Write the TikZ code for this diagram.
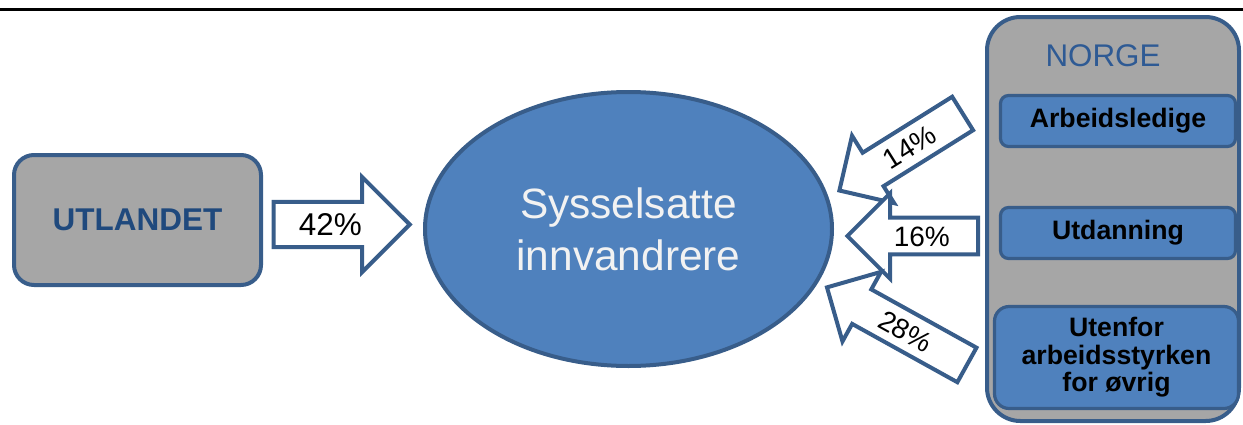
\documentclass[tikz,border=0pt]{standalone}
\usepackage{fontspec}
\setmainfont{Liberation Sans}
\usetikzlibrary{shapes.geometric,shapes.arrows}
\definecolor{OfficeBlue}{HTML}{4F81BD}
\definecolor{OfficeLine}{HTML}{385D8A}
\definecolor{BoxGray}{HTML}{A6A6A6}
\definecolor{TitleBlue}{HTML}{1F497D}
\definecolor{NorgeBlue}{HTML}{2E5A94}
\definecolor{SoftWhite}{HTML}{F2F2F2}

\tikzset{
  landbox/.style={draw=OfficeLine, fill=BoxGray, line width=3pt},
  gruppe/.style={draw=OfficeLine, fill=OfficeBlue, line width=2.4pt, rounded corners=6pt,
    inner sep=0pt, align=center, font=\fontsize{20}{20.6}\selectfont\bfseries},
  pil/.style={single arrow, draw=OfficeLine, fill=white, line width=3pt,
    single arrow head indent=0pt, single arrow tip angle=90,
    text depth=0pt, inner xsep=4pt, anchor=tip}
}

\begin{document}
\begin{tikzpicture}[x=0.75pt,y=-0.75pt]
  \useasboundingbox (0,0) rectangle (1243,425);

  \draw[line width=2.25pt] (0,9.5) -- (1243,9.5);

  \node[
    landbox,
    rounded corners=25pt,
    minimum width=189pt,
    minimum height=303pt
  ] (norge) at (1113,219) {};
  \node[text=NorgeBlue, font=\fontsize{23.5}{24}\selectfont] (norgetittel) at (1103,56) {NORGE};

  \node[gruppe, minimum width=176.25pt, minimum height=38.25pt] (arbeidsledige) at (1118,121) {Arbeidsledige};
  \node[gruppe, minimum width=176.25pt, minimum height=38.25pt] (utdanning) at (1118,233) {Utdanning};
  \node[
    gruppe,
    rounded corners=11pt,
    minimum width=183pt,
    minimum height=76.5pt
  ] (utenfor) at (1116.5,357.5) {Utenfor\\arbeidsstyrken\\for øvrig};

  \node[
    landbox,
    rounded corners=15pt,
    minimum width=185.25pt,
    minimum height=97.5pt,
    text=TitleBlue,
    font=\fontsize{23.6}{24}\selectfont\bfseries
  ] (utlandet) at (137.5,220) {UTLANDET};

  \node[
    ellipse,
    draw=OfficeLine,
    fill=OfficeBlue,
    line width=3pt,
    minimum width=305.25pt,
    minimum height=205.5pt,
    text=SoftWhite,
    align=center,
    font=\fontsize{31.8}{39}\selectfont
  ] (sysselsatte) at (628.5,229) {Sysselsatte\\innvandrere};

  \node[
    pil,
    minimum height=102pt,
    inner ysep=7pt,
    text height=16.9pt,
    single arrow head extend=18.75pt,
    font=\fontsize{23.6}{24}\selectfont
  ] (pil42) at (412.5,224.5) {42\%};
  \node[
    pil,
    shape border rotate=180,
    rotate=32,
    minimum height=109pt,
    inner ysep=5.8pt,
    text height=15pt,
    single arrow head extend=15pt,
    font=\fontsize{21}{21}\selectfont
  ] (pil14) at (837,192) {14\%};
  \node[
    pil,
    shape border rotate=180,
    minimum height=98pt,
    inner ysep=4.7pt,
    text height=15pt,
    single arrow head extend=18.4pt,
    font=\fontsize{21}{21}\selectfont
  ] (pil16) at (844.5,236) {16\%};
  \node[
    pil,
    shape border rotate=180,
    rotate=-29,
    minimum height=120pt,
    inner ysep=5.8pt,
    text height=15pt,
    single arrow head extend=15pt,
    font=\fontsize{21}{21}\selectfont
  ] (pil28) at (824.5,286) {28\%};
\end{tikzpicture}
\end{document}
